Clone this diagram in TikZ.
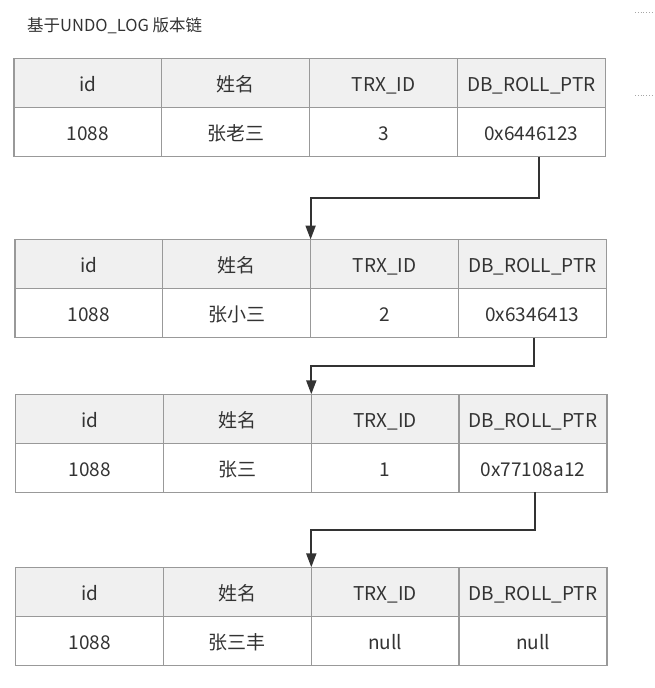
\documentclass[tikz,border=0pt]{standalone}
\usepackage{fontspec}
\setmainfont{Noto Sans CJK SC}
\usetikzlibrary{arrows.meta,calc}
\definecolor{gridc}{HTML}{999999}
\definecolor{headc}{HTML}{F0F0F0}
\definecolor{txtc}{HTML}{333333}
\definecolor{arrc}{HTML}{333333}
\tikzset{
  cell/.style={draw=gridc, line width=1.3pt, minimum width=147.8pt, minimum height=49pt,
    inner sep=0pt, outer sep=0pt, anchor=north west, text=txtc,
    text height=16.5pt, text depth=0pt,
    font=\fontsize{19}{22}\selectfont},
  hcell/.style={cell, fill=headc},
  link/.style={draw=arrc, line width=2pt, -{Triangle[length=14pt,width=10pt]}},
  dotline/.style={draw=gray!70, dotted, line width=0.8pt}
}
\newcommand\mkundotable[6]{%
  \node[hcell] (#1h1) at (#2,#3) {id};
  \node[hcell] (#1h2) at ($(#2,#3)+(147.8,0)$) {姓名};
  \node[hcell] (#1h3) at ($(#2,#3)+(295.6,0)$) {TRX\_ID};
  \node[hcell] (#1h4) at ($(#2,#3)+(443.4,0)$) {DB\_ROLL\_PTR};
  \node[cell] (#1d1) at ($(#2,#3)+(0,49)$) {1088};
  \node[cell] (#1d2) at ($(#2,#3)+(147.8,49)$) {#4};
  \node[cell] (#1d3) at ($(#2,#3)+(295.6,49)$) {#5};
  \node[cell] (#1d4) at ($(#2,#3)+(443.4,49)$) {#6};
}
\begin{document}
\begin{tikzpicture}[x=1pt,y=-1pt]
\useasboundingbox (0,0) rectangle (654,688);
\node[anchor=west, text=txtc, font=\fontsize{16.5}{19}\selectfont, inner sep=0pt] (title) at (27,26) {基于UNDO\_LOG 版本链};
\mkundotable{ta}{14}{58.5}{张老三}{3}{0x6446123}
\mkundotable{tb}{15}{239.5}{张小三}{2}{0x6346413}
\mkundotable{tc}{15.7}{394.3}{张三}{1}{0x77108a12}
\mkundotable{td}{15.7}{567.3}{张三丰}{null}{null}
\draw[link] ([xshift=8pt]tad4.south) -- ++(0,41.7) -| (tbh3.north west);
\draw[link] ([xshift=2pt]tbd4.south) -- ++(0,28) -| (tch3.north west);
\draw[link] ([xshift=2.4pt]tcd4.south) -- ++(0,38) -| (tdh3.north west);
\draw[dotline] (635,12.3) -- (654,12.3);
\draw[dotline] (635,95) -- (654,95);
\end{tikzpicture}
\end{document}
